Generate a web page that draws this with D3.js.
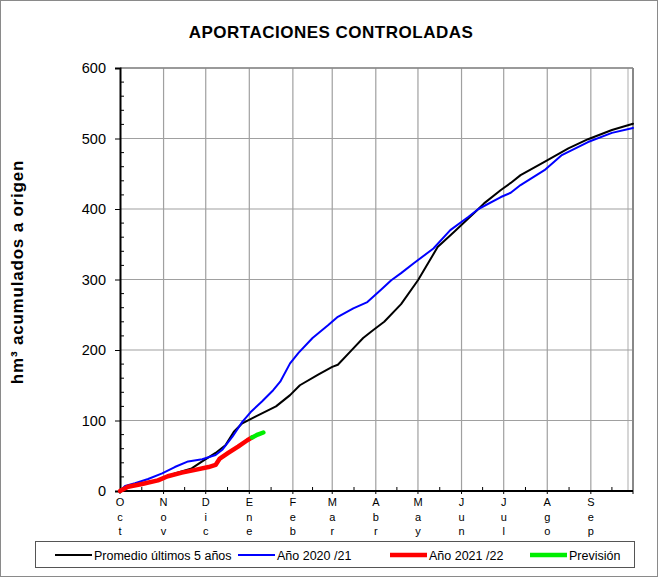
<!DOCTYPE html>
<html>
<head>
<meta charset="utf-8">
<script src="https://cdn.jsdelivr.net/npm/d3@7"></script>
<style>
  body { margin: 0; background: #fff; }
  svg { display: block; font-family: "Liberation Sans", Arial, sans-serif; }
</style>
</head>
<body>
<div class="graph"></div>
<script>
// dia del año hidrologico (0 = 1 oct) y hm3 acumulados
var promedioDias = [0, 3.6, 15.7, 30, 39, 51, 58.5, 68, 75, 81, 87, 96, 111, 121, 128, 141, 151, 155, 164, 173, 180, 188, 200, 212, 226, 238, 248, 255, 259, 271, 278, 285, 302, 319, 333, 350, 365];
var promedioVals = [0, 4, 10, 17, 25, 32, 42, 54, 65, 84, 96, 105, 120, 136, 150, 165, 176, 179, 198, 217, 228, 240, 265, 299, 346, 368, 387, 400, 408, 427, 437, 448, 467, 486, 499, 512, 521];

var a2021Dias = [0, 3.6, 10.7, 20, 30, 39, 48.5, 58.5, 68, 73, 80, 87, 93, 101, 109, 114, 121, 127, 137, 148, 155, 166, 176, 185.5, 193, 200, 209, 223, 235, 248, 255, 271, 278, 285, 302, 314, 333, 350, 365];
var a2021Vals = [0, 7, 11, 17, 25, 34, 42, 45, 51, 59, 77, 98, 112, 127, 143, 155, 181, 196, 217, 235, 247, 259, 268, 285, 299, 309, 323, 344, 370, 389, 400, 417, 423, 434, 455, 476, 495, 508, 515];

var a2122Dias = [0, 5.7, 15.7, 27, 34, 44, 53.5, 63, 68, 71, 77, 84, 90.6, 94];
var a2122Vals = [0, 6, 10, 15, 21, 26, 30, 34, 37, 46, 54, 63, 72, 76];

var previsionDias = [94, 98, 102];
var previsionVals = [76, 80, 83];

var mesesInicio = [0, 31, 61, 92, 123, 151, 182, 212, 243, 273, 304, 335, 365];
var mesesEtiq = ["Oct", "Nov", "Dic", "Ene", "Feb", "Mar", "Abr", "May", "Jun", "Jul", "Ago", "Sep"];

var yTicks = [0, 100, 200, 300, 400, 500, 600];

var width = 659, height = 578;
var pL = 120, pR = 633, pT = 68, pB = 491;

var svg = d3.select('.graph').append("svg")
    .attr("width", width)
    .attr("height", height);

// marco exterior
svg.append("rect")
    .attr("x", 0.5).attr("y", 0.5)
    .attr("width", width - 2).attr("height", height - 2)
    .attr("fill", "none")
    .attr("stroke", "#8a8a8a");

var x = d3.scaleLinear().domain([0, 365]).range([pL, pR]);
var y = d3.scaleLinear().domain([0, 600]).range([pB, pT]);

function zip(d, v) {
    return d.map(function(dd, i) { return [dd, v[i]]; });
}

// rejilla
svg.append("g").selectAll("line")
    .data(mesesInicio.slice(1, 12))
    .enter().append("line")
    .attr("x1", function(d) { return x(d); })
    .attr("x2", function(d) { return x(d); })
    .attr("y1", pT).attr("y2", pB)
    .attr("stroke", "#a0a0a0").attr("stroke-width", 1.2);

// linea fin de año, un poco antes del marco
svg.append("line")
    .attr("x1", pR - 5).attr("x2", pR - 5)
    .attr("y1", pT).attr("y2", pB)
    .attr("stroke", "#c8c8c8").attr("stroke-width", 1.5);

svg.append("g").selectAll("line")
    .data(yTicks.slice(1))
    .enter().append("line")
    .attr("x1", pL).attr("x2", pR)
    .attr("y1", function(d) { return y(d); })
    .attr("y2", function(d) { return y(d); })
    .attr("stroke", "#a0a0a0").attr("stroke-width", 1.2);

// marco del grafico
svg.append("line").attr("x1", pL).attr("x2", pR).attr("y1", pT).attr("y2", pT)
    .attr("stroke", "#888").attr("stroke-width", 1.5);
svg.append("line").attr("x1", pR).attr("x2", pR).attr("y1", pT).attr("y2", pB)
    .attr("stroke", "#888").attr("stroke-width", 2);

// eje Y
var yAxis = d3.axisLeft(y).tickValues(yTicks).tickSize(5).tickPadding(9);
var gy = svg.append("g")
    .attr("transform", "translate(" + pL + ",0)")
    .call(yAxis);
gy.select(".domain").attr("stroke", "#000").attr("stroke-width", 2);
gy.selectAll("text").style("font-size", "14.5px").attr("fill", "#000");

// ticks menores Y
var minorY = d3.range(0, 601, 20).filter(function(v) { return v % 100 != 0; });
svg.append("g").selectAll("line")
    .data(minorY)
    .enter().append("line")
    .attr("x1", pL).attr("x2", pL + 4)
    .attr("y1", function(d) { return y(d); })
    .attr("y2", function(d) { return y(d); })
    .attr("stroke", "#000");

// eje X
svg.append("line")
    .attr("x1", pL).attr("x2", pR)
    .attr("y1", pB).attr("y2", pB)
    .attr("stroke", "#000").attr("stroke-width", 2);

var minorX = mesesInicio.slice(0, 12).map(function(d, i) {
    return (d + mesesInicio[i + 1]) / 2;
});
svg.append("g").selectAll("line")
    .data(minorX)
    .enter().append("line")
    .attr("x1", function(d) { return x(d); })
    .attr("x2", function(d) { return x(d); })
    .attr("y1", pB).attr("y2", pB - 4)
    .attr("stroke", "#000");

svg.append("g").selectAll("line")
    .data(mesesInicio)
    .enter().append("line")
    .attr("x1", function(d) { return x(d); })
    .attr("x2", function(d) { return x(d); })
    .attr("y1", pB).attr("y2", pB + 3)
    .attr("stroke", "#000");

// etiquetas de mes en vertical, letra a letra
var mesG = svg.append("g").selectAll("text")
    .data(mesesEtiq)
    .enter().append("text")
    .attr("text-anchor", "middle")
    .style("font-size", "11px")
    .attr("fill", "#000");
mesG.each(function(m, i) {
    var t = d3.select(this);
    m.split("").forEach(function(c, j) {
        t.append("tspan")
            .attr("x", x(mesesInicio[i]))
            .attr("y", 506 + j * 14.5)
            .text(c);
    });
});

// series
var line = d3.line()
    .x(function(d) { return x(d[0]); })
    .y(function(d) { return y(d[1]); });

var series = [
    { name: "Promedio últimos 5 años", data: zip(promedioDias, promedioVals), color: "#000", w: 2 },
    { name: "Año 2020 /21", data: zip(a2021Dias, a2021Vals), color: "#0000ff", w: 2 },
    { name: "Año 2021 /22", data: zip(a2122Dias, a2122Vals), color: "#ff0000", w: 4.5 },
    { name: "Previsión", data: zip(previsionDias, previsionVals), color: "#00ee00", w: 4.5 }
];

svg.append("g").selectAll("path")
    .data(series)
    .enter().append("path")
    .attr("d", function(d) { return line(d.data); })
    .attr("fill", "none")
    .attr("stroke", function(d) { return d.color; })
    .attr("stroke-width", function(d) { return d.w; })
    .attr("stroke-linejoin", "round")
    .attr("stroke-linecap", "round");

// titulo
svg.append("text")
    .attr("x", 331).attr("y", 38)
    .attr("text-anchor", "middle")
    .style("font-size", "17px")
    .style("font-weight", "bold")
    .style("letter-spacing", "0.5px")
    .text("APORTACIONES CONTROLADAS");

svg.append("text")
    .attr("transform", "translate(23,272) rotate(-90)")
    .attr("text-anchor", "middle")
    .style("font-size", "17px")
    .style("font-weight", "bold")
    .style("letter-spacing", "0.8px")
    .text("hm³ acumulados a origen");

// leyenda
svg.append("rect")
    .attr("x", 35.5).attr("y", 541.5)
    .attr("width", 599).attr("height", 26)
    .attr("fill", "#fff")
    .attr("stroke", "#555");

var legX = [55, 238, 390, 530];
var leg = svg.append("g").selectAll("g")
    .data(series)
    .enter().append("g")
    .attr("transform", function(d, i) { return "translate(" + legX[i] + ",555)"; });
leg.append("line")
    .attr("x1", 0).attr("x2", 37)
    .attr("stroke", function(d) { return d.color; })
    .attr("stroke-width", function(d) { return d.w; });
leg.append("text")
    .attr("x", 39).attr("y", 4.5)
    .style("font-size", "12.5px")
    .text(function(d) { return d.name; });
</script>
</body>
</html>
